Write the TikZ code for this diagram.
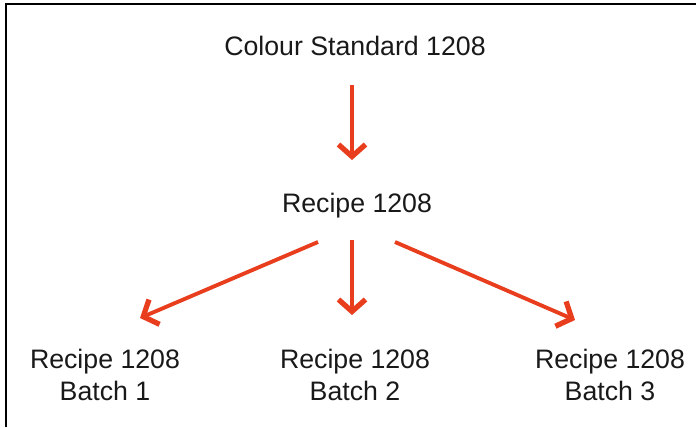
\documentclass[tikz,border=0pt]{standalone}
\usepackage{fontspec}
\setmainfont{Liberation Sans}
\usepackage{tikz}
\usetikzlibrary{positioning,arrows.meta}
\definecolor{recipered}{RGB}{232,62,30}
\definecolor{labelgray}{RGB}{25,25,25}
\tikzset{
  flowarrow/.style={-{Straight Barb[length=2.4mm, width=5.4mm, line width=3pt]}, line width=2.2pt, draw=recipered},
  label/.style={font=\fontsize{15.2}{18.1}\selectfont, text=labelgray, align=center, inner sep=0pt},
  framebar/.style={line width=1.1pt, draw=black}
}
\begin{document}
\begin{tikzpicture}
  \useasboundingbox (0,0) rectangle (13.92,-8.54);
  \draw[framebar] (0.12,-8.54) |- (13.92,-0.08);
  \node[label] (std) at (7.10,-0.92) {Colour Standard 1208};
  \node[label] (rec) at (7.14,-4.12) {Recipe 1208};
  \node[label] (b1) at (2.10,-7.50) {Recipe 1208\\Batch 1};
  \node[label] (b2) at (7.10,-7.50) {Recipe 1208\\Batch 2};
  \node[label] (b3) at (12.20,-7.50) {Recipe 1208\\Batch 3};
  \draw[flowarrow] ([shift={(-0.06,-0.78)}]std.center) -- ([shift={(-0.10,0.92)}]rec.center);
  \draw[flowarrow] ([shift={(-0.10,-0.68)}]rec.center) -- ([shift={(-0.06,1.20)}]b2.center);
  \draw[flowarrow] ([shift={(-0.78,-0.72)}]rec.center) -- ([shift={(0.70,1.14)}]b1.center);
  \draw[flowarrow] ([shift={(0.76,-0.72)}]rec.center) -- ([shift={(-0.70,1.10)}]b3.center);
\end{tikzpicture}
\end{document}
